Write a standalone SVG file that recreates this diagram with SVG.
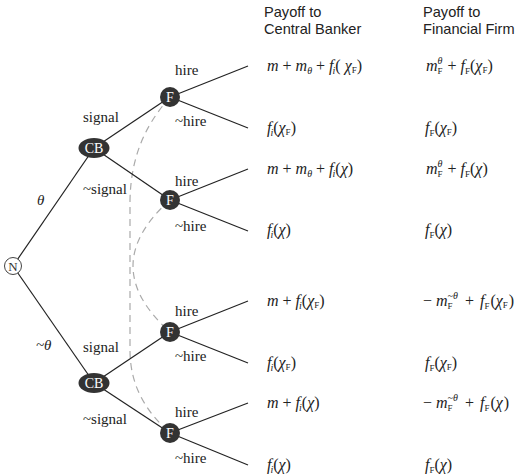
<svg xmlns="http://www.w3.org/2000/svg" width="517" height="474" viewBox="0 0 517 474">
<style>
.edge{stroke:#222;stroke-width:1.2;fill:none}
.info{stroke:#aaa;stroke-width:1.2;fill:none;stroke-dasharray:7 5}
.lbl{font-family:"Liberation Serif",serif;font-size:15px;fill:#222}
.th{font-family:"Liberation Serif",serif;font-size:15px;font-style:italic;fill:#222}
.hd{font-family:"Liberation Sans",Arial,sans-serif;font-size:14.6px;fill:#222}
.mi{font-family:"Liberation Serif",serif;font-size:16px;font-style:italic;fill:#222}
.r{font-style:normal}
.s{font-size:10px}
.sc{font-size:9px;font-style:normal}
.dark{fill:#333}
.ntxt{font-family:"Liberation Serif",serif;font-size:14px;fill:#fff;text-anchor:middle}
</style>
<rect width="517" height="474" fill="#fff"/>
<g id="info-sets">
<path class="info" d="M170,97 C150,120 131,150 130,200 L130,350 C130,390 150,415 170,433"/>
<path class="info" d="M170,200 Q96,266 170,332"/>
</g>
<g id="connectors">
<line class="edge" x1="13" y1="266" x2="94" y2="148"/>
<line class="edge" x1="13" y1="266" x2="94" y2="383"/>
<line class="edge" x1="94" y1="148" x2="170" y2="97"/>
<line class="edge" x1="94" y1="148" x2="170" y2="200"/>
<line class="edge" x1="94" y1="383" x2="170" y2="332"/>
<line class="edge" x1="94" y1="383" x2="170" y2="433"/>
<line class="edge" x1="170" y1="97" x2="248" y2="66"/>
<line class="edge" x1="170" y1="97" x2="248" y2="128"/>
<line class="edge" x1="170" y1="200" x2="248" y2="169"/>
<line class="edge" x1="170" y1="200" x2="248" y2="231"/>
<line class="edge" x1="170" y1="332" x2="248" y2="301"/>
<line class="edge" x1="170" y1="332" x2="248" y2="363"/>
<line class="edge" x1="170" y1="433" x2="248" y2="403"/>
<line class="edge" x1="170" y1="433" x2="248" y2="465"/>
</g>
<g id="edge-labels">
<text class="th" x="37" y="205">θ</text>
<text class="th" x="36" y="350">~θ</text>
<text class="lbl" x="83" y="122">signal</text>
<text class="lbl" x="83" y="194">~signal</text>
<text class="lbl" x="83" y="352">signal</text>
<text class="lbl" x="83" y="424">~signal</text>
<text class="lbl" x="175" y="75">hire</text>
<text class="lbl" x="175" y="126">~hire</text>
<text class="lbl" x="175" y="186">hire</text>
<text class="lbl" x="175" y="231">~hire</text>
<text class="lbl" x="175" y="316">hire</text>
<text class="lbl" x="175" y="361">~hire</text>
<text class="lbl" x="175" y="417">hire</text>
<text class="lbl" x="175" y="463">~hire</text>
</g>
<g id="node-N"><circle cx="13" cy="266" r="8.5" fill="#fff" stroke="#444" stroke-width="1"/><text x="13" y="270.5" font-family="Liberation Serif,serif" font-size="13" fill="#333" text-anchor="middle">N</text></g>
<g id="node-CB1"><ellipse class="dark" cx="94" cy="148" rx="15.5" ry="10"/><text class="ntxt" x="94" y="153">CB</text></g>
<g id="node-CB2"><ellipse class="dark" cx="94" cy="383" rx="15.5" ry="10"/><text class="ntxt" x="94" y="388">CB</text></g>
<g id="node-F1"><circle class="dark" cx="170" cy="97" r="10"/><text class="ntxt" x="170" y="102">F</text></g>
<g id="node-F2"><circle class="dark" cx="170" cy="200" r="10"/><text class="ntxt" x="170" y="205">F</text></g>
<g id="node-F3"><circle class="dark" cx="170" cy="332" r="10"/><text class="ntxt" x="170" y="337">F</text></g>
<g id="node-F4"><circle class="dark" cx="170" cy="433" r="10"/><text class="ntxt" x="170" y="438">F</text></g>
<g id="headers">
<text class="hd" x="264" y="17">Payoff to</text>
<text class="hd" x="264" y="34">Central Banker</text>
<text class="hd" x="423" y="17">Payoff to</text>
<text class="hd" x="423" y="34">Financial Firm</text>
</g>
<g id="payoffs-cb">
<text class="mi" x="267" y="71">m<tspan class="r"> + </tspan>m<tspan class="s" dy="3">θ</tspan><tspan class="r" dy="-3"> + </tspan>f<tspan class="s" dy="3" dx="-1">i</tspan><tspan class="r" dy="-3">( </tspan>χ<tspan class="sc" dy="2">F</tspan><tspan class="r" dy="-2">)</tspan></text>
<text class="mi" x="267" y="133">f<tspan class="s" dy="3" dx="-1">i</tspan><tspan class="r" dy="-3">(</tspan>χ<tspan class="sc" dy="2">F</tspan><tspan class="r" dy="-2">)</tspan></text>
<text class="mi" x="267" y="174">m<tspan class="r"> + </tspan>m<tspan class="s" dy="3">θ</tspan><tspan class="r" dy="-3"> + </tspan>f<tspan class="s" dy="3" dx="-1">i</tspan><tspan class="r" dy="-3">(</tspan>χ<tspan class="r">)</tspan></text>
<text class="mi" x="267" y="235">f<tspan class="s" dy="3" dx="-1">i</tspan><tspan class="r" dy="-3">(</tspan>χ<tspan class="r">)</tspan></text>
<text class="mi" x="267" y="306">m<tspan class="r"> + </tspan>f<tspan class="s" dy="3" dx="-1">i</tspan><tspan class="r" dy="-3">(</tspan>χ<tspan class="sc" dy="2">F</tspan><tspan class="r" dy="-2">)</tspan></text>
<text class="mi" x="267" y="368">f<tspan class="s" dy="3" dx="-1">i</tspan><tspan class="r" dy="-3">(</tspan>χ<tspan class="sc" dy="2">F</tspan><tspan class="r" dy="-2">)</tspan></text>
<text class="mi" x="267" y="408">m<tspan class="r"> + </tspan>f<tspan class="s" dy="3" dx="-1">i</tspan><tspan class="r" dy="-3">(</tspan>χ<tspan class="r">)</tspan></text>
<text class="mi" x="267" y="470">f<tspan class="s" dy="3" dx="-1">i</tspan><tspan class="r" dy="-3">(</tspan>χ<tspan class="r">)</tspan></text>
</g>
<g id="payoffs-ff">
<text class="mi" x="426" y="71">m<tspan class="sc" dy="3">F</tspan><tspan class="s" dx="-5" dy="-10">θ</tspan><tspan class="r" dx="1" dy="7"> + </tspan>f<tspan class="sc" dy="3">F</tspan><tspan class="r" dy="-3">(</tspan>χ<tspan class="sc" dy="2">F</tspan><tspan class="r" dy="-2">)</tspan></text>
<text class="mi" x="425" y="133">f<tspan class="sc" dy="3">F</tspan><tspan class="r" dy="-3">(</tspan>χ<tspan class="sc" dy="2">F</tspan><tspan class="r" dy="-2">)</tspan></text>
<text class="mi" x="426" y="174">m<tspan class="sc" dy="3">F</tspan><tspan class="s" dx="-5" dy="-10">θ</tspan><tspan class="r" dx="1" dy="7"> + </tspan>f<tspan class="sc" dy="3">F</tspan><tspan class="r" dy="-3">(</tspan>χ<tspan class="r">)</tspan></text>
<text class="mi" x="425" y="235">f<tspan class="sc" dy="3">F</tspan><tspan class="r" dy="-3">(</tspan>χ<tspan class="r">)</tspan></text>
<text class="mi" x="423" y="306"><tspan class="r">− </tspan>m<tspan class="sc" dy="3">F</tspan><tspan class="s" dx="-5" dy="-10">~θ</tspan><tspan class="r" dx="3" dy="7"> + </tspan><tspan dx="2">f</tspan><tspan class="sc" dy="3">F</tspan><tspan class="r" dy="-3" dx="1">(</tspan>χ<tspan class="sc" dy="2">F</tspan><tspan class="r" dy="-2" dx="1">)</tspan></text>
<text class="mi" x="425" y="368">f<tspan class="sc" dy="3">F</tspan><tspan class="r" dy="-3">(</tspan>χ<tspan class="sc" dy="2">F</tspan><tspan class="r" dy="-2">)</tspan></text>
<text class="mi" x="423" y="408"><tspan class="r">− </tspan>m<tspan class="sc" dy="3">F</tspan><tspan class="s" dx="-5" dy="-10">~θ</tspan><tspan class="r" dx="3" dy="7"> + </tspan><tspan dx="2">f</tspan><tspan class="sc" dy="3">F</tspan><tspan class="r" dy="-3" dx="1">(</tspan>χ<tspan class="r" dx="1">)</tspan></text>
<text class="mi" x="425" y="470">f<tspan class="sc" dy="3">F</tspan><tspan class="r" dy="-3">(</tspan>χ<tspan class="r">)</tspan></text>
</g>
</svg>
